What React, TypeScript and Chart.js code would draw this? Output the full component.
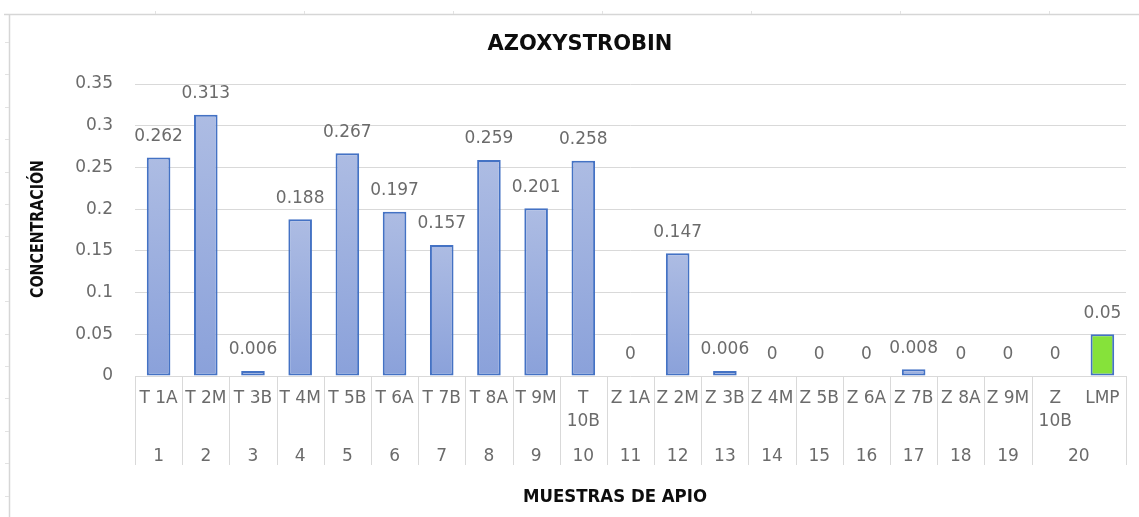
import React, { useEffect, useRef } from "react";
import { Chart, registerables } from "chart.js";

Chart.register(...registerables);

const chartTitle = "AZOXYSTROBIN";
const xAxisTitle = "MUESTRAS DE APIO";
const yAxisTitle = "CONCENTRACIÓN";

const categories = [
  "T 1A", "T 2M", "T 3B", "T 4M", "T 5B", "T 6A", "T 7B", "T 8A", "T 9M", "T 10B",
  "Z 1A", "Z 2M", "Z 3B", "Z 4M", "Z 5B", "Z 6A", "Z 7B", "Z 8A", "Z 9M", "Z 10B", "LMP",
];
const concentrations = [
  0.262, 0.313, 0.006, 0.188, 0.267, 0.197, 0.157, 0.259, 0.201, 0.258,
  0, 0.147, 0.006, 0, 0, 0, 0.008, 0, 0, 0, 0.05,
];
const groupLabels = [
  "1", "2", "3", "4", "5", "6", "7", "8", "9", "10",
  "11", "12", "13", "14", "15", "16", "17", "18", "19", "20",
];
const groupSizes = [1, 1, 1, 1, 1, 1, 1, 1, 1, 1, 1, 1, 1, 1, 1, 1, 1, 1, 1, 2];
const limitCategory = "LMP";
const yMin = 0;
const yMax = 0.35;
const yStep = 0.05;

const FONT = "'DejaVu Sans', 'Noto Sans', sans-serif";
const GREY_TEXT = "#6b6b6b";
const GRID = "#d9d9d9";
const BLUE_BORDER = "#4472c4";

const decorPlugin = {
  id: "decor",
  beforeDraw(chart: any) {
    const ctx = chart.ctx;
    ctx.save();
    ctx.fillStyle = "#ffffff";
    ctx.fillRect(0, 0, chart.width, chart.height);
    ctx.strokeStyle = "#d6d6d6";
    ctx.lineWidth = 1.5;
    ctx.beginPath();
    ctx.moveTo(4, 14.5);
    ctx.lineTo(chart.width, 14.5);
    ctx.moveTo(9.5, 14);
    ctx.lineTo(9.5, chart.height);
    ctx.stroke();
    ctx.lineWidth = 1;
    ctx.strokeStyle = "#e2e2e2";
    ctx.beginPath();
    for (let x = 155; x < chart.width; x += 149) {
      ctx.moveTo(x + 0.5, 11);
      ctx.lineTo(x + 0.5, 14);
    }
    for (let y = 42; y < chart.height; y += 32.4) {
      ctx.moveTo(5, Math.round(y) + 0.5);
      ctx.lineTo(9, Math.round(y) + 0.5);
    }
    ctx.stroke();
    ctx.restore();
  },
  afterDatasetsDraw(chart: any) {
    const ctx = chart.ctx;
    const meta = chart.getDatasetMeta(0);
    ctx.save();
    ctx.font = `17px ${FONT}`;
    ctx.fillStyle = GREY_TEXT;
    ctx.textAlign = "center";
    ctx.textBaseline = "middle";
    meta.data.forEach((bar: any, i: number) => {
      ctx.fillText(String(concentrations[i]), bar.x, bar.y - 21);
    });
    ctx.restore();
  },
  afterDraw(chart: any) {
    const ctx = chart.ctx;
    const xs = chart.scales.x;
    const area = chart.chartArea;
    const catW = (xs.right - xs.left) / categories.length;
    const edge = (b: number) => xs.getPixelForValue(b - 0.5);
    ctx.save();

    ctx.strokeStyle = GRID;
    ctx.lineWidth = 1;
    ctx.beginPath();
    let idx = 0;
    const boundaries = [0];
    groupSizes.forEach((s) => {
      idx += s;
      boundaries.push(idx);
    });
    boundaries.forEach((b) => {
      const px = Math.round(edge(b)) + 0.5;
      ctx.moveTo(px, area.bottom);
      ctx.lineTo(px, area.bottom + 89);
    });
    ctx.stroke();

    ctx.font = `17px ${FONT}`;
    ctx.fillStyle = GREY_TEXT;
    ctx.textAlign = "center";
    ctx.textBaseline = "middle";
    categories.forEach((label, i) => {
      const cx = xs.getPixelForValue(i);
      let lines = [label];
      if (ctx.measureText(label).width > catW - 1) lines = label.split(" ");
      lines.forEach((ln, k) => ctx.fillText(ln, cx, area.bottom + 23 + k * 23));
    });

    idx = 0;
    groupLabels.forEach((g, j) => {
      const start = idx;
      idx += groupSizes[j];
      const cx = (edge(start) + edge(idx)) / 2;
      ctx.fillText(g, cx, area.bottom + 81);
    });

    ctx.fillStyle = "#0d0d0d";
    ctx.font = `bold 21px ${FONT}`;
    ctx.fillText(chartTitle, 580, 45, 195);

    ctx.font = `bold 17px ${FONT}`;
    ctx.fillText(xAxisTitle, 615, 498, 184);

    ctx.translate(38, 229);
    ctx.rotate(-Math.PI / 2);
    ctx.font = `bold 18px ${FONT}`;
    ctx.fillText(yAxisTitle, 0, 0, 138);
    ctx.restore();
  },
};

export default function App() {
  const canvasRef = useRef<HTMLCanvasElement | null>(null);

  useEffect(() => {
    const canvas = canvasRef.current;
    if (!canvas) return;

    const barFill = (c: any) => {
      const chart = c.chart;
      const i = c.dataIndex;
      if (categories[i] === limitCategory) return "#86e23a";
      const ys = chart.scales && chart.scales.y;
      if (!ys || ys.bottom === undefined || !chart.chartArea) return "#9cb0e0";
      const v = concentrations[i] ?? 0;
      const top = ys.getPixelForValue(v);
      const bottom = ys.getPixelForValue(0);
      if (!isFinite(top) || !isFinite(bottom) || bottom - top < 1) return "#aab9e2";
      const g = chart.ctx.createLinearGradient(0, top, 0, bottom);
      g.addColorStop(0, "#adbce3");
      g.addColorStop(1, "#8aa1da");
      return g;
    };

    const chart = new Chart(canvas, {
      type: "bar",
      data: {
        labels: categories,
        datasets: [
          {
            data: concentrations,
            backgroundColor: barFill,
            borderColor: BLUE_BORDER,
            borderWidth: 2,
            borderSkipped: false,
            barPercentage: 0.5,
            categoryPercentage: 1,
          },
        ],
      },
      options: {
        animation: false,
        responsive: true,
        maintainAspectRatio: false,
        layout: { padding: { top: 84, right: 13, bottom: 0, left: 0 } },
        plugins: {
          legend: { display: false },
          title: { display: false },
          tooltip: { enabled: false },
        },
        scales: {
          x: {
            grid: { display: false },
            border: { display: false },
            ticks: { display: false },
            afterFit: (scale: any) => {
              scale.height = 141;
            },
          },
          y: {
            min: yMin,
            max: yMax,
            border: { display: false },
            grid: { color: GRID, lineWidth: 1, drawTicks: false },
            ticks: {
              stepSize: yStep,
              padding: 22,
              color: GREY_TEXT,
              font: { family: FONT, size: 17 },
              callback: (v: any) => String(Number(Number(v).toFixed(2))),
            },
            afterFit: (scale: any) => {
              scale.width = 135;
            },
          },
        },
      },
      plugins: [decorPlugin],
    });

    return () => chart.destroy();
  }, []);

  return (
    <div style={{ position: "fixed", left: 0, top: 0, width: 1139, height: 517, background: "#fff" }}>
      <canvas ref={canvasRef} />
    </div>
  );
}
